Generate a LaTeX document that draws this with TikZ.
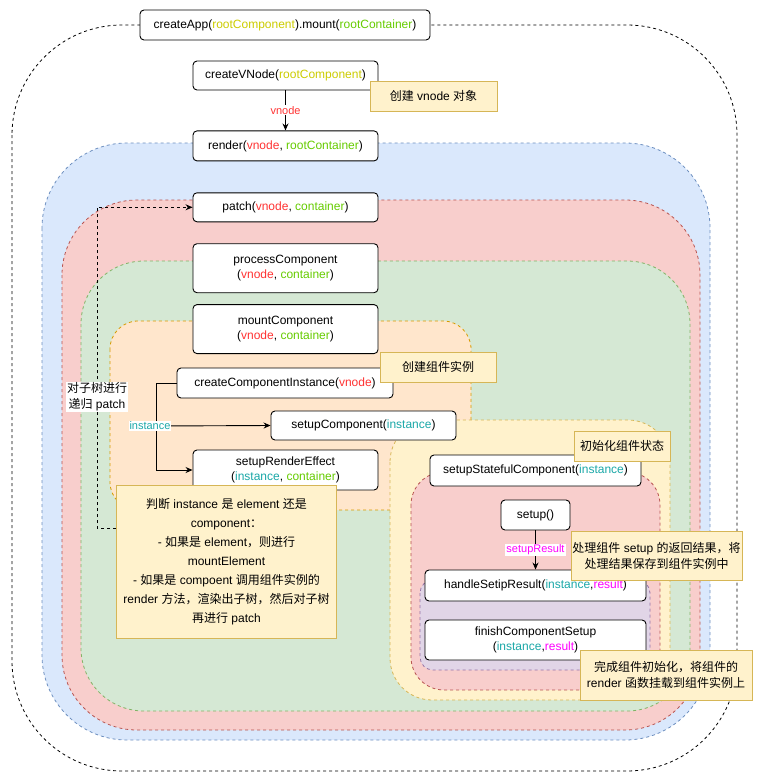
\documentclass[tikz,border=0pt]{standalone}
\usepackage{fontspec}
\setmainfont{Liberation Sans}
\newfontfamily\cjkfont{Noto Sans CJK SC}
\newcommand{\cn}[1]{{\cjkfont #1}}
\usetikzlibrary{positioning, arrows.meta}
\definecolor{bluefill}{HTML}{DAE8FC}
\definecolor{blueborder}{HTML}{6C8EBF}
\definecolor{redfill}{HTML}{F8CECC}
\definecolor{redborder}{HTML}{B85450}
\definecolor{greenfill}{HTML}{D5E8D4}
\definecolor{greenborder}{HTML}{82B366}
\definecolor{orangefill}{HTML}{FFE6CC}
\definecolor{orangeborder}{HTML}{D79B00}
\definecolor{yellowfill}{HTML}{FFF2CC}
\definecolor{yellowborder}{HTML}{D6B656}
\definecolor{purplefill}{HTML}{E1D5E7}
\definecolor{purpleborder}{HTML}{9673A6}
\definecolor{argcomp}{HTML}{CCCC00}
\definecolor{argcont}{HTML}{66CC00}
\definecolor{argvnode}{HTML}{FF3333}
\definecolor{arginst}{HTML}{1BA8A8}
\definecolor{argres}{HTML}{FF00FF}
\newcommand{\vn}{\textcolor{argvnode}{vnode}}
\newcommand{\ct}{\textcolor{argcont}{container}}
\newcommand{\inst}{\textcolor{arginst}{instance}}
\newcommand{\res}{\textcolor{argres}{result}}
\tikzset{
    fn/.style 2 args={
        draw, fill=white, rounded corners=4pt,
        minimum width=#1pt, minimum height=#2pt, inner sep=0pt,
        font=\fontsize{12}{15}\selectfont, align=center,
        line width=0.9pt,
    },
    note/.style 2 args={
        draw=yellowborder, fill=yellowfill,
        minimum width=#1pt, minimum height=#2pt, inner sep=0pt,
        font=\fontsize{12}{16}\selectfont, align=center,
        line width=0.9pt,
    },
    region/.style 2 args={
        draw=#1, fill=#2, line width=0.8pt,
        dash pattern=on 3pt off 3pt,
    },
    flow/.style={
        -{Stealth[length=7pt, width=6pt]}, line width=0.9pt,
    },
    dashflow/.style={
        flow, dash pattern=on 3pt off 3pt,
    },
    edgelabel/.style={
        fill=white, inner sep=1pt, font=\fontsize{11}{13}\selectfont, text=#1,
    },
}

\begin{document}
\begin{tikzpicture}[x=1pt, y=-1pt]
\useasboundingbox (0,0) rectangle (763,781);

% ── Nested scopes (outer to inner) ───────────────────────────
\draw[line width=0.8pt, dash pattern=on 3pt off 3pt, rounded corners=110pt] (12,25) rectangle (737,771);
\draw[region={blueborder}{bluefill}, rounded corners=85pt] (42,143) rectangle (710,740);
\draw[region={redborder}{redfill}, rounded corners=75pt] (62,200) rectangle (700,730);
\draw[region={greenborder}{greenfill}, rounded corners=63pt] (81,261) rectangle (690,711);
\draw[region={orangeborder}{orangefill}, rounded corners=28pt] (110,321) rectangle (471,510);
\draw[region={yellowborder}{yellowfill}, rounded corners=42pt] (390,420) rectangle (670,700);
\draw[region={redborder}{redfill}, rounded corners=33pt] (411,472) rectangle (660,690);
\draw[region={purpleborder}{purplefill}, rounded corners=13pt] (420,580) rectangle (650,670);

% ── Entry ────────────────────────────────────────────────────
\node[fn={290}{30}] (createapp) at (285,25) {createApp(\textcolor{argcomp}{rootComponent}).mount(\textcolor{argcont}{rootContainer})};
\node[fn={185}{29}] (createvnode) at (285.5,75.5) {createVNode(\textcolor{argcomp}{rootComponent})};
\node[fn={185}{30}, below=40pt of createvnode] (render) {render(\vn, \textcolor{argcont}{rootContainer})};

% ── Left column: patch -> mountComponent ─────────────────────
\node[fn={185}{29}, below=31pt of render] (patch) {patch(\vn, \ct)};
\node[fn={185}{49}, below=21pt of patch] (process) {processComponent\\(\vn, \ct)};
\node[fn={185}{49}, below=11pt of process] (mount) {mountComponent\\(\vn, \ct)};

\node[fn={216}{30}] (createinst) at (285,383) {createComponentInstance(\vn)};
\node[fn={185}{29}] (setupcomp) at (363.5,425.5) {setupComponent(\inst)};
\node[fn={185}{40}] (setuprender) at (285.5,470) {setupRenderEffect\\(\inst, \ct)};

% ── Right column: setup state ────────────────────────────────
\node[fn={211}{31}] (stateful) at (535.5,470.5) {setupStatefulComponent(\inst)};
\node[fn={69}{30}] (setupfn) at (535.5,515) {setup()};
\node[fn={221}{31}] (handleres) at (535.5,585.5) {handleSetipResult(\inst,\res)};
\node[fn={221}{40}] (finishsetup) at (535.5,640) {finishComponentSetup\\(\inst,\res)};

% ── Connectors ───────────────────────────────────────────────
\draw[flow] (createvnode) -- node[edgelabel=argvnode]{vnode} (render);
\coordinate (instfork) at (157,426);
\draw[flow] (createinst.west) -- ++(-20,0) |- (setuprender.west);
\draw[flow] (instfork) -- (setupcomp.west);
\node[edgelabel=arginst] (instlabel) at (150,426) {instance};
\draw[flow] (setupfn) -- node[edgelabel=argres]{setupResult} (handleres);

% ── Notes ────────────────────────────────────────────────────
\node[note={127}{30}] (vnodenote) at (433.5,96) {\cn{创建} vnode \cn{对象}};
\node[note={116}{30}] (instnote) at (438,367) {\cn{创建组件实例}};
\node[note={96}{30}] (statenote) at (622,446) {\cn{初始化组件状态}};
\node[note={171}{49}] (resultnote) at (656.5,555.5) {\cn{处理组件} setup \cn{的返回结果，将}\\\cn{处理结果保存到组件实例中}};
\node[note={172}{50}] (finishnote) at (666,675) {\cn{完成组件初始化，将组件的}\\render \cn{函数挂载到组件实例上}};
\node[note={220}{153}, font=\fontsize{12}{19}\selectfont] (rendernote) at (226.5,561.5) {\cn{判断} instance \cn{是} element \cn{还是}\\component\cn{：}\\- \cn{如果是} element\cn{，则进行}\\mountElement\\- \cn{如果是} compoent \cn{调用组件实例的}\\render \cn{方法，渲染出子树，然后对子树}\\\cn{再进行} patch};

% recursive patch of the sub tree
\draw[dashflow] ([yshift=33.5pt]rendernote.west) -- ++(-19,0) |- (patch.west);
\node[edgelabel=black, font=\fontsize{12}{16}\selectfont, align=center] (subtreelabel) at (97,397) {\cn{对子树进行}\\\cn{递归} patch};

\end{tikzpicture}
\end{document}
